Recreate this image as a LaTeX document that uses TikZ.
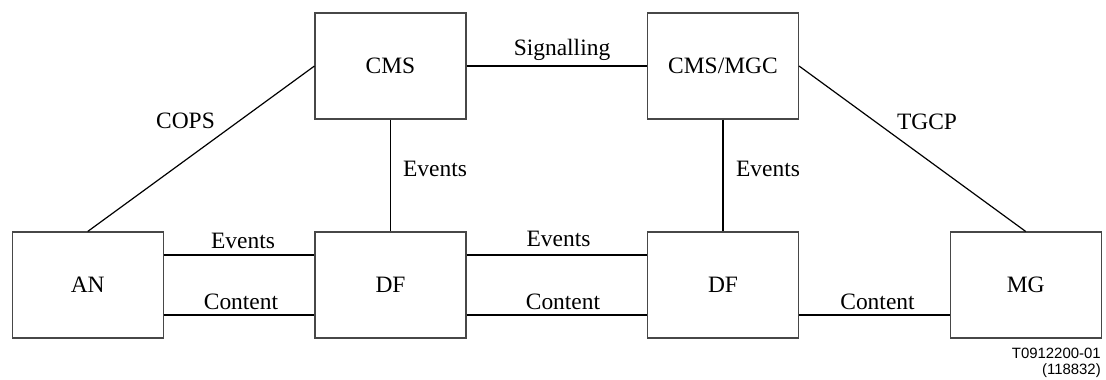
\documentclass[tikz,border=0pt]{standalone}
\usepackage{fontspec}
\setmainfont{Liberation Serif}
\newfontfamily\capfont{Liberation Sans}
\begin{document}
\begin{tikzpicture}[x=0.75pt,y=-0.75pt,
  box/.style={draw=black!72,line width=0.8pt,minimum width=113.25pt,
    minimum height=79.5pt,inner sep=0pt,
    font=\fontsize{17.6}{20}\selectfont},
  conn/.style={line width=1.1pt,black},
  lbl/.style={anchor=base,inner sep=0pt,font=\fontsize{17.6}{20}\selectfont},
  figref/.style={anchor=base east,inner sep=0pt,font=\capfont\fontsize{11.2}{13}\selectfont}]
\useasboundingbox (0,0) rectangle (1106,379);

% functional entities
\node[box] (cms)  at (390.5,66)  {CMS};
\node[box] (mgc)  at (723,66)    {CMS/MGC};
\node[box] (an)   at (87.7,285)  {AN};
\node[box] (df1)  at (390.5,285) {DF};
\node[box] (df2)  at (723,285)   {DF};
\node[box] (mg)   at (1025.7,285){MG};

% interfaces
\draw[conn] (cms.east) -- (mgc.west);
\draw[conn,line width=0.9pt] (cms.west) -- (an.north);
\draw[conn,line width=0.9pt] (mgc.east) -- (mg.north);
\draw[conn] (cms.south) -- (df1.north);
\draw[conn] (mgc.south) -- (df2.north);
\draw[conn] ([yshift=22.5pt]an.east)  -- ([yshift=22.5pt]df1.west);
\draw[conn] ([yshift=-22.5pt]an.east) -- ([yshift=-22.5pt]df1.west);
\draw[conn] ([yshift=22.5pt]df1.east)  -- ([yshift=22.5pt]df2.west);
\draw[conn] ([yshift=-22.5pt]df1.east) -- ([yshift=-22.5pt]df2.west);
\draw[conn] ([yshift=-22.5pt]df2.east) -- ([yshift=-22.5pt]mg.west);

% interface labels
\node[lbl] (lsig)  at (562,55)    {Signalling};
\node[lbl] (lcops) at (185.5,128) {COPS};
\node[lbl] (ltgcp) at (927,129)   {TGCP};
\node[lbl] (lev1)  at (435,176.5) {Events};
\node[lbl] (lev2)  at (768,176.5) {Events};
\node[lbl] (lev3)  at (243,248)   {Events};
\node[lbl] (lco1)  at (241,309)   {Content};
\node[lbl] (lev4)  at (558.5,246) {Events};
\node[lbl] (lco2)  at (563,309)   {Content};
\node[lbl] (lco3)  at (877.5,309) {Content};

% figure reference
\node[figref] (ref1) at (1101,358) {T0912200-01};
\node[figref] (ref2) at (1101,374) {(118832)};
\end{tikzpicture}
\end{document}
